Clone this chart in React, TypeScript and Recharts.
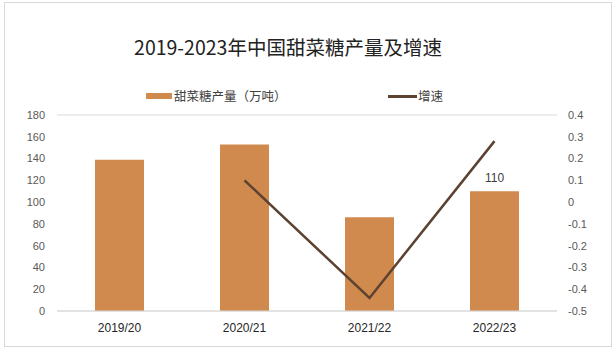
import React from 'react';
import {
  ComposedChart,
  Bar,
  Line,
  XAxis,
  YAxis,
  CartesianGrid,
  LabelList,
} from 'recharts';

const years = ['2019/20', '2020/21', '2021/22', '2022/23'];
const output = [139, 153, 86, 110];
const growth = [null, 0.1, -0.44, 0.28];
const leftTicks = [0, 20, 40, 60, 80, 100, 120, 140, 160, 180];
const rightTicks = [-0.5, -0.4, -0.3, -0.2, -0.1, 0, 0.1, 0.2, 0.3, 0.4];

const data = years.map((year, i) => ({
  year,
  output: output[i],
  growth: growth[i],
}));

const BAR_COLOR = '#D08A4E';
const LINE_COLOR = '#5C4230';
const FONT = "'Liberation Sans', 'Noto Sans CJK SC', sans-serif";
const CJK = "'Noto Sans CJK SC', sans-serif";

const lastLabel = (props: any) => {
  const { x, y, width, index, value } = props;
  if (index !== years.length - 1) return null;
  return (
    <text
      x={x + width / 2}
      y={y - 9}
      textAnchor='middle'
      fontSize={12}
      fill='#404040'
      fontFamily={FONT}
    >
      {value}
    </text>
  );
};

export default function App() {
  return (
    <div
      style={{
        position: 'absolute',
        left: 0,
        top: 0,
        width: 616,
        height: 354,
        background: '#fff',
        overflow: 'hidden',
      }}
    >
      <div
        style={{
          position: 'absolute',
          left: 4,
          top: 2,
          width: 606,
          height: 343,
          border: '1px solid #d9d9d9',
        }}
      />
      <div
        style={{
          position: 'absolute',
          left: 0,
          top: 33,
          width: 576,
          textAlign: 'center',
          fontFamily: CJK,
          fontSize: 19.5,
          color: '#222',
          lineHeight: '28px',
        }}
      >
        2019-2023年中国甜菜糖产量及增速
      </div>
      <div
        style={{
          position: 'absolute',
          left: 146,
          top: 93,
          width: 26,
          height: 6,
          background: BAR_COLOR,
        }}
      />
      <div
        style={{
          position: 'absolute',
          left: 174,
          top: 87,
          fontFamily: CJK,
          fontSize: 12.5,
          color: '#404040',
          lineHeight: '18px',
        }}
      >
        甜菜糖产量（万吨）
      </div>
      <div
        style={{
          position: 'absolute',
          left: 388,
          top: 95,
          width: 29,
          height: 3,
          background: LINE_COLOR,
        }}
      />
      <div
        style={{
          position: 'absolute',
          left: 418,
          top: 87,
          fontFamily: CJK,
          fontSize: 12.5,
          color: '#404040',
          lineHeight: '18px',
        }}
      >
        增速
      </div>
      <div style={{ position: 'absolute', left: 0, top: 0 }}>
        <ComposedChart
          width={616}
          height={354}
          data={data}
          margin={{ top: 115, right: 0, bottom: 0, left: 0 }}
        >
          <CartesianGrid vertical={false} stroke='#d9d9d9' />
          <XAxis
            dataKey='year'
            height={43}
            tickLine={false}
            axisLine={{ stroke: '#d9d9d9' }}
            tickSize={0}
            tickMargin={12}
            tick={{ fontSize: 12, fill: '#262626', fontFamily: FONT }}
          />
          <YAxis
            yAxisId='left'
            width={57}
            domain={[0, 180]}
            ticks={leftTicks}
            axisLine={false}
            tickLine={false}
            tickSize={0}
            tickMargin={12}
            tick={{ fontSize: 11, fill: '#595959', fontFamily: FONT }}
          />
          <YAxis
            yAxisId='right'
            orientation='right'
            width={59}
            domain={[-0.5, 0.4]}
            ticks={rightTicks}
            axisLine={false}
            tickLine={false}
            tickSize={0}
            tickMargin={11}
            tick={{ fontSize: 11, fill: '#595959', fontFamily: FONT }}
          />
          <Bar
            yAxisId='left'
            dataKey='output'
            fill={BAR_COLOR}
            barSize={49}
            isAnimationActive={false}
          >
            <LabelList dataKey='output' content={lastLabel} />
          </Bar>
          <Line
            yAxisId='right'
            dataKey='growth'
            stroke={LINE_COLOR}
            strokeWidth={2.5}
            dot={false}
            isAnimationActive={false}
          />
        </ComposedChart>
      </div>
    </div>
  );
}
